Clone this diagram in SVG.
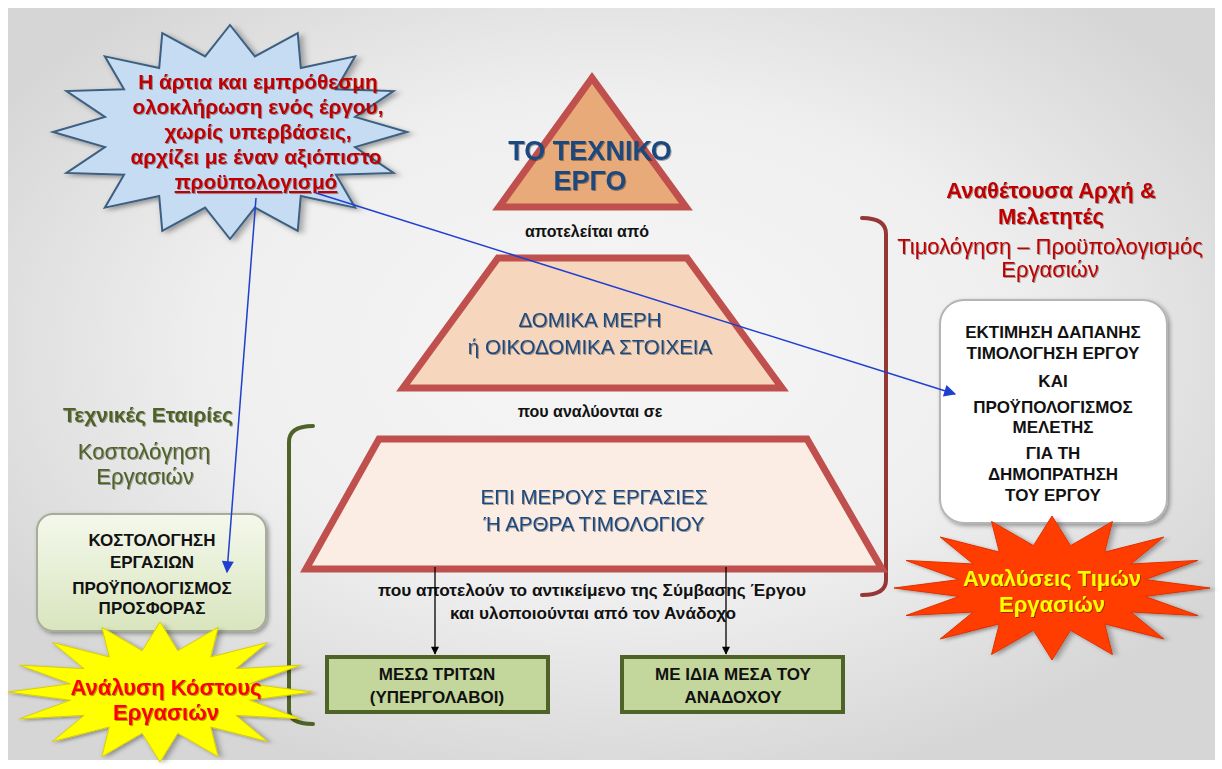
<svg xmlns="http://www.w3.org/2000/svg" xmlns:xlink="http://www.w3.org/1999/xlink" width="1222" height="769" viewBox="0 0 1222 769">
<style>
text{font-family:"Liberation Sans",Arial,sans-serif;text-anchor:middle}
.b{font-weight:bold}
.pyr{fill:#1f497d}
.blk{fill:#111}
.red{fill:#c00000}
.olive{fill:#4f6228}
.trap{stroke:#c0504d;stroke-width:7;stroke-linejoin:miter}
.gbox{fill:#c3d69b;stroke:#4f6228;stroke-width:4}
.blue{stroke:#1f3fd0;stroke-width:1.5;fill:none}
.black{stroke:#000;stroke-width:1.3;fill:none}
.brk{fill:none;stroke-width:4;stroke-linecap:round}
</style>
<defs>
<radialGradient id="bg" cx="0.5" cy="0.45" r="0.6">
<stop offset="0" stop-color="#f6f6f6"/>
<stop offset="0.55" stop-color="#efefef"/>
<stop offset="1" stop-color="#d6d6d6"/>
</radialGradient>
<linearGradient id="lg" x1="0" y1="0" x2="0" y2="1">
<stop offset="0" stop-color="#f4f8ec"/>
<stop offset="1" stop-color="#d9e5be"/>
</linearGradient>
<filter id="sh" x="-20%" y="-20%" width="140%" height="140%">
<feDropShadow dx="2" dy="2" stdDeviation="2" flood-color="#000" flood-opacity="0.35"/>
</filter>
<filter id="tsh" x="-10%" y="-30%" width="120%" height="160%">
<feDropShadow dx="1" dy="1" stdDeviation="0.6" flood-color="#000" flood-opacity="0.35"/>
</filter>
<polygon id="star72" vector-effect="non-scaling-stroke" points="0,-100 14.05,-70.62 38.27,-92.39 40,-59.87 70.71,-70.71 59.87,-40 92.39,-38.27 70.62,-14.05 100,0 70.62,14.05 92.39,38.27 59.87,40 70.71,70.71 40,59.87 38.27,92.39 14.05,70.62 0,100 -14.05,70.62 -38.27,92.39 -40,59.87 -70.71,70.71 -59.87,40 -92.39,38.27 -70.62,14.05 -100,0 -70.62,-14.05 -92.39,-38.27 -59.87,-40 -70.71,-70.71 -40,-59.87 -38.27,-92.39 -14.05,-70.62"/>
<polygon id="star60" vector-effect="non-scaling-stroke" points="0,-100 11.71,-58.85 38.27,-92.39 33.34,-49.89 70.71,-70.71 49.89,-33.34 92.39,-38.27 58.85,-11.71 100,0 58.85,11.71 92.39,38.27 49.89,33.34 70.71,70.71 33.34,49.89 38.27,92.39 11.71,58.85 0,100 -11.71,58.85 -38.27,92.39 -33.34,49.89 -70.71,70.71 -49.89,33.34 -92.39,38.27 -58.85,11.71 -100,0 -58.85,-11.71 -92.39,-38.27 -49.89,-33.34 -70.71,-70.71 -33.34,-49.89 -38.27,-92.39 -11.71,-58.85"/>
<marker id="ab2" viewBox="0 0 10 10" refX="9" refY="5" markerWidth="16" markerHeight="12" markerUnits="userSpaceOnUse" orient="auto"><path d="M0,0 L10,5 L0,10 z" fill="#1f3fd0"/></marker>
<marker id="ak" viewBox="0 0 10 10" refX="9" refY="5" markerWidth="10" markerHeight="8" markerUnits="userSpaceOnUse" orient="auto"><path d="M0,0 L10,5 L0,10 z" fill="#000"/></marker>
</defs>

<rect x="0" y="0" width="1222" height="769" fill="#ffffff"/>
<rect x="8" y="8" width="1207" height="752" fill="url(#bg)"/>

<g id="brackets">
<path class="brk" stroke="#953735" d="M862,218 Q886,218 886,234 L886,580 Q886,595 862,595"/>
<path class="brk" stroke="#4f6228" d="M313,426 Q289,426 289,442 L289,710 Q289,724 313,724"/>
</g>

<g id="top-triangle">
<polygon class="trap" fill="#e8aa78" points="592,78 499,207 686,207"/>
<text class="b pyr" x="590" y="160" font-size="27" filter="url(#tsh)">ΤΟ ΤΕΧΝΙΚΟ</text>
<text class="b pyr" x="590" y="190" font-size="27" filter="url(#tsh)">ΕΡΓΟ</text>
</g>
<text class="b blk" x="587" y="237" font-size="16">αποτελείται από</text>

<g id="middle-trapezoid">
<polygon class="trap" fill="#f6d6bd" points="498,258 687,258 782,388 403,388"/>
<text class="pyr" x="590" y="327" font-size="20.5" filter="url(#tsh)">ΔΟΜΙΚΑ ΜΕΡΗ</text>
<text class="pyr" x="590" y="354" font-size="20.5" filter="url(#tsh)">ή ΟΙΚΟΔΟΜΙΚΑ ΣΤΟΙΧΕΙΑ</text>
</g>
<text class="b blk" x="590" y="417" font-size="16">που αναλύονται σε</text>

<g id="bottom-trapezoid">
<polygon class="trap" fill="#fbede4" points="379,439 807,439 882,569 306,569"/>
<text class="pyr" x="594" y="504" font-size="20.5" filter="url(#tsh)">ΕΠΙ ΜΕΡΟΥΣ ΕΡΓΑΣΙΕΣ</text>
<text class="pyr" x="594" y="531" font-size="20.5" filter="url(#tsh)">Ή ΑΡΘΡΑ ΤΙΜΟΛΟΓΙΟΥ</text>
</g>
<text class="b blk" x="592" y="596" font-size="16" textLength="428" lengthAdjust="spacingAndGlyphs">που αποτελούν το αντικείμενο της Σύμβασης Έργου</text>
<text class="b blk" x="593" y="619" font-size="16" textLength="286" lengthAdjust="spacingAndGlyphs">και υλοποιούνται από τον Ανάδοχο</text>

<g id="box-third-parties">
<rect class="gbox" x="327" y="657" width="221" height="55"/>
<text class="b blk" x="437" y="680" font-size="17">ΜΕΣΩ ΤΡΙΤΩΝ</text>
<text class="b blk" x="437" y="703" font-size="17">(ΥΠΕΡΓΟΛΑΒΟΙ)</text>
</g>
<g id="box-own-means">
<rect class="gbox" x="622" y="657" width="221" height="55"/>
<text class="b blk" x="733" y="680" font-size="17">ΜΕ ΙΔΙΑ ΜΕΣΑ ΤΟΥ</text>
<text class="b blk" x="733" y="703" font-size="17">ΑΝΑΔΟΧΟΥ</text>
</g>

<g id="blue-star">
<use href="#star72" transform="translate(230,132) scale(1.77,1.07)" fill="#c6dcf2" stroke="#3e5f80" stroke-width="2" filter="url(#sh)"/>
<text class="b red" x="258" y="89" font-size="20.8" filter="url(#tsh)">Η άρτια και εμπρόθεσμη</text>
<text class="b red" x="258" y="114" font-size="20.8" filter="url(#tsh)">ολοκλήρωση ενός έργου,</text>
<text class="b red" x="258" y="139" font-size="20.8" filter="url(#tsh)">χωρίς υπερβάσεις,</text>
<text class="b red" x="256" y="164" font-size="20.8" filter="url(#tsh)">αρχίζει με έναν αξιόπιστο</text>
<text class="b red" x="256" y="189" font-size="20.8" text-decoration="underline" filter="url(#tsh)">προϋπολογισμό</text>
</g>

<g id="contracting-authority">
<text class="b red" x="1051" y="198" font-size="22" filter="url(#tsh)">Αναθέτουσα Αρχή &amp;</text>
<text class="b red" x="1051" y="224" font-size="22" filter="url(#tsh)">Μελετητές</text>
<text class="red" x="1050" y="254" font-size="22" filter="url(#tsh)">Τιμολόγηση – Προϋπολογισμός</text>
<text class="red" x="1050" y="277" font-size="22" filter="url(#tsh)">Εργασιών</text>
</g>

<g id="estimate-box">
<rect x="940" y="300" width="227" height="223" rx="24" fill="#ffffff" stroke="#b5b5b5" stroke-width="2" filter="url(#sh)"/>
<text class="b blk" x="1053" y="338" font-size="17">ΕΚΤΙΜΗΣΗ ΔΑΠΑΝΗΣ</text>
<text class="b blk" x="1053" y="359" font-size="17">ΤΙΜΟΛΟΓΗΣΗ ΕΡΓΟΥ</text>
<text class="b blk" x="1053" y="387" font-size="17">ΚΑΙ</text>
<text class="b blk" x="1053" y="413" font-size="17">ΠΡΟΫΠΟΛΟΓΙΣΜΟΣ</text>
<text class="b blk" x="1053" y="433" font-size="17">ΜΕΛΕΤΗΣ</text>
<text class="b blk" x="1053" y="459" font-size="17">ΓΙΑ ΤΗ</text>
<text class="b blk" x="1053" y="480" font-size="17">ΔΗΜΟΠΡΑΤΗΣΗ</text>
<text class="b blk" x="1053" y="501" font-size="17">ΤΟΥ ΕΡΓΟΥ</text>
</g>

<g id="orange-star">
<use href="#star60" transform="translate(1052,588) scale(1.58,0.72)" fill="#ff3d00" stroke="#e03000" stroke-width="1" filter="url(#sh)"/>
<text class="b" x="1052" y="586" font-size="22" fill="#ffff00" filter="url(#tsh)">Αναλύσεις Τιμών</text>
<text class="b" x="1052" y="612" font-size="22" fill="#ffff00" filter="url(#tsh)">Εργασιών</text>
</g>

<g id="technical-companies">
<text class="b olive" x="148" y="422" font-size="21" filter="url(#tsh)">Τεχνικές Εταιρίες</text>
<text class="olive" x="144" y="459" font-size="22" filter="url(#tsh)">Κοστολόγηση</text>
<text class="olive" x="145" y="484" font-size="22" filter="url(#tsh)">Εργασιών</text>
</g>

<g id="costing-box">
<rect x="37" y="514" width="229" height="117" rx="16" fill="url(#lg)" stroke="#a6ad98" stroke-width="2" filter="url(#sh)"/>
<text class="b blk" x="152" y="546" font-size="17">ΚΟΣΤΟΛΟΓΗΣΗ</text>
<text class="b blk" x="152" y="568" font-size="17">ΕΡΓΑΣΙΩΝ</text>
<text class="b blk" x="152" y="594" font-size="17">ΠΡΟΫΠΟΛΟΓΙΣΜΟΣ</text>
<text class="b blk" x="152" y="614" font-size="17">ΠΡΟΣΦΟΡΑΣ</text>
</g>

<g id="yellow-star">
<use href="#star60" transform="translate(160,692) scale(1.52,0.70)" fill="#ffff00" stroke="#d8cf00" stroke-width="1" filter="url(#sh)"/>
<text class="b" x="166" y="695" font-size="22" fill="#ff0000" filter="url(#tsh)">Ανάλυση Κόστους</text>
<text class="b" x="166" y="720" font-size="22" fill="#ff0000" filter="url(#tsh)">Εργασιών</text>
</g>

<g id="connectors">
<line class="blue" x1="256" y1="198" x2="227" y2="572" marker-end="url(#ab2)"/>
<line class="blue" x1="316" y1="193" x2="955" y2="394" marker-end="url(#ab2)"/>
<line class="black" x1="435" y1="567" x2="435" y2="654" marker-end="url(#ak)"/>
<line class="black" x1="726" y1="567" x2="726" y2="654" marker-end="url(#ak)"/>
</g>
</svg>
